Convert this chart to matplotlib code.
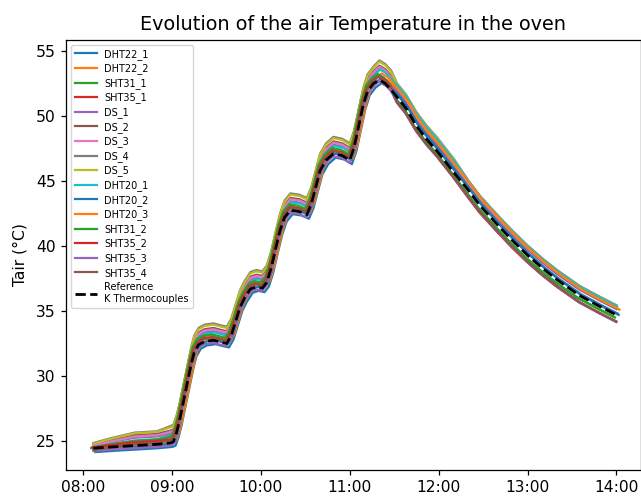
import numpy as np
import matplotlib
matplotlib.use('Agg')
import matplotlib.pyplot as plt
import matplotlib.dates as mdates
from datetime import datetime, timedelta

# time in minutes after 08:00 and reference (K thermocouples) temperature
times = [7, 20, 35, 50, 59, 61, 63, 65, 67, 69, 71, 73, 75, 78, 82, 88, 93, 97,
         100, 103, 106, 109, 113, 117, 121, 124, 127, 130, 133, 136, 140, 146, 151,
         154, 157, 160, 164, 169, 175, 180, 183, 186, 189, 192, 196, 200, 204, 208,
         212, 218, 225, 232, 239, 250, 260, 268, 280, 290, 300, 310, 320, 335, 348, 360]
ref_temp = [24.45, 24.55, 24.65, 24.75, 24.85, 24.95, 25.6, 26.5, 27.6, 28.7, 29.8, 30.9, 31.8, 32.4,
            32.65, 32.75, 32.6, 32.5, 33.1, 34.2, 35.3, 36.0, 36.7, 36.85, 36.75, 37.2, 38.3, 39.8,
            41.2, 42.2, 42.75, 42.65, 42.4, 43.2, 44.5, 45.8, 46.6, 47.1, 46.95, 46.6, 47.6, 49.2,
            50.8, 51.9, 52.5, 52.78, 52.5, 52.0, 51.45, 50.6, 49.25, 48.2, 47.3, 45.7, 44.3, 43.1,
            41.6, 40.4, 39.3, 38.3, 37.4, 36.2, 35.4, 34.7]
# phase of each time point:
# 0 start, 1 early, 2 first plateau, 3 heating, 4 peak, 5 post-peak, 6 late cooling
phase = [0, 1, 2, 2] + [3] * 41 + [4] * 3 + [5] * 6 + [6] * 10

sensors = ['DHT22_1', 'DHT22_2', 'SHT31_1', 'SHT35_1', 'DS_1', 'DS_2', 'DS_3', 'DS_4', 'DS_5',
           'DHT20_1', 'DHT20_2', 'DHT20_3', 'SHT31_2', 'SHT35_2', 'SHT35_3', 'SHT35_4']
# deviation from the reference (°C) in each phase
sensor_dev = [
    [-0.30, -0.30, -0.30, -0.30, -0.25, 0.00, 0.00],
    [-0.10, -0.05, 0.00, 0.10, 0.20, 0.40, 0.40],
    [0.00, 0.15, 0.30, 0.40, 0.40, -0.05, -0.15],
    [0.05, 0.15, 0.30, 0.30, 0.30, -0.30, -0.50],
    [0.20, 0.40, 0.60, 0.70, 0.90, 0.50, 0.45],
    [0.25, 0.55, 0.80, 0.95, 1.10, 0.60, 0.50],
    [0.20, 0.45, 0.70, 0.85, 1.00, 0.65, 0.55],
    [0.40, 0.70, 1.00, 1.30, 1.50, 1.05, 0.75],
    [0.35, 0.65, 0.95, 1.20, 1.40, 1.00, 0.70],
    [0.10, 0.25, 0.40, 0.60, 0.80, 0.85, 0.65],
    [-0.25, -0.18, -0.10, 0.00, 0.10, 0.15, 0.10],
    [0.00, 0.10, 0.20, 0.35, 0.50, 0.50, 0.45],
    [0.05, 0.20, 0.35, 0.45, 0.45, -0.10, -0.20],
    [0.05, 0.15, 0.25, 0.25, 0.25, -0.35, -0.50],
    [-0.20, -0.20, -0.20, -0.20, -0.10, -0.45, -0.55],
    [-0.15, -0.02, 0.10, 0.20, 0.30, -0.40, -0.50],
]
# response delay of each sensor (minutes)
sensor_lag = [1.5, 2.0, -1.5, -0.5, 0.0, 0.0, 0.0, 0.0, 0.0, 0.5, 1.0, 1.5, -1.0, -0.5, 0.0, 0.0]

base = datetime(2023, 1, 1, 8, 0)


def to_dt(mins):
    return [base + timedelta(minutes=float(m)) for m in mins]


t = np.array(times, dtype=float)
ref = np.array(ref_temp)
ph = np.array(phase)

fig = plt.figure(figsize=(6.41, 4.98), dpi=100)
ax = fig.add_axes([66 / 641, 28 / 498, 575 / 641, 430 / 498])

for name, dev, lag in zip(sensors, sensor_dev, sensor_lag):
    y = ref + np.array(dev)[ph]
    ax.plot(to_dt(t + lag), y, linewidth=1.6, label=name)

ax.plot(to_dt(t), ref, color='black', linestyle='--', linewidth=2.0,
        label='Reference\nK Thermocouples')

ax.set_xlim(base + timedelta(minutes=-11.5), base + timedelta(minutes=376.6))
ax.set_ylim(22.77, 55.85)
ax.xaxis.set_major_locator(mdates.HourLocator())
ax.xaxis.set_major_formatter(mdates.DateFormatter('%H:%M'))
ax.tick_params(labelsize=11.2, length=3.9, width=0.9)
for s in ax.spines.values():
    s.set_linewidth(0.9)

ax.set_ylabel('Tair (°C)', fontsize=11.2, labelpad=6)
ax.set_title('Evolution of the air Temperature in the oven', fontsize=13.9, pad=7)
ax.legend(loc='upper left', fontsize=7.0, labelspacing=0.38, handlelength=2.25)

fig.savefig('out.png', dpi=100)
